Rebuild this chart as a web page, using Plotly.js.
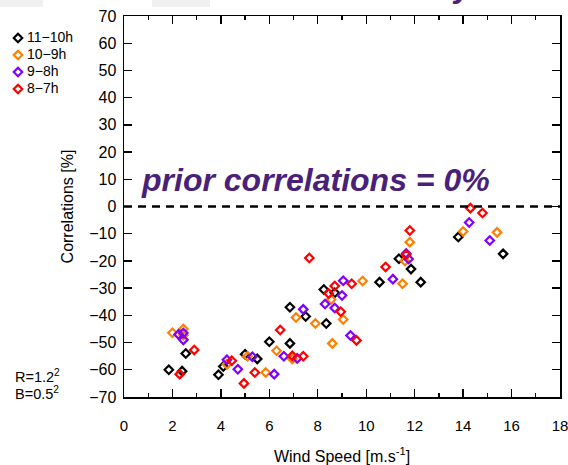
<!DOCTYPE html>
<html><head><meta charset="utf-8">
<script src="https://cdn.plot.ly/plotly-3.0.1.min.js"></script>
<style>html,body{margin:0;padding:0;background:#fff;}#chart{width:568px;height:465px;}</style>
</head><body><div id="chart"></div>
<script>
const seriesNames = ["11\u221210h", "10\u22129h", "9\u22128h", "8\u22127h"];
const seriesColors = ["#000000", "#FF8000", "#8000FF", "#FF0000"];

const blackX = [1.85, 2.4, 2.55, 3.9, 4.1, 5.0, 5.5, 6.0, 6.85, 6.85, 7.5, 8.35, 8.25, 8.7, 10.55, 11.35, 11.85, 12.25, 13.8, 15.65];
const blackY = [-60, -60.5, -54, -61.8, -58.8, -54.3, -56, -49.7, -50.3, -37, -40.4, -43, -30.5, -31.7, -27.8, -19.2, -23, -27.8, -11.2, -17.4];

const orangeX = [2.0, 2.45, 2.45, 4.25, 5.1, 5.85, 6.3, 6.95, 7.1, 7.9, 8.55, 8.6, 9.05, 9.85, 11.5, 11.6, 11.8, 14.0, 15.4];
const orangeY = [-46.4, -45, -47.3, -58, -55, -61, -53, -56, -40.8, -43, -34.2, -50.3, -41.5, -27.4, -28.4, -20, -13.1, -9.2, -9.5];

const purpleX = [2.25, 2.45, 2.45, 4.25, 4.7, 5.3, 6.2, 6.6, 7.15, 7.4, 8.3, 8.7, 9.0, 9.05, 9.35, 11.1, 11.65, 11.75, 14.25, 15.1];
const purpleY = [-47, -46.5, -49, -56.3, -59.8, -55.2, -61.6, -55, -55.8, -37.8, -35.8, -37.3, -32.7, -27.3, -47.4, -26.7, -17.3, -19.3, -5.9, -12.5];

const redX = [2.3, 2.9, 4.45, 4.95, 5.4, 6.45, 6.95, 7.4, 7.65, 8.45, 8.7, 8.95, 9.4, 9.6, 10.8, 11.65, 11.8, 14.3, 14.8];
const redY = [-61.6, -52.7, -56.7, -65, -61, -45.4, -54.9, -55, -18.9, -32, -29.2, -38.7, -28.4, -49.2, -22.2, -17.7, -8.8, -0.6, -2.4];

const priorLevel = 0;
const xTickVals = [0, 2, 4, 6, 8, 10, 12, 14, 16, 18];
const yTickVals = [-70, -60, -50, -40, -30, -20, -10, 0, 10, 20, 30, 40, 50, 60, 70];
const legendRows = [0, 1, 2, 3];

const seriesX = [blackX, orangeX, purpleX, redX];
const seriesY = [blackY, orangeY, purpleY, redY];

const font = "Liberation Sans, Arial, sans-serif";
const W = 568, H = 465;

const traces = seriesNames.map((n, i) => ({
  type: "scatter", mode: "markers", name: n,
  x: seriesX[i], y: seriesY[i], xaxis: "x", yaxis: "y",
  marker: {symbol: "diamond-open", size: 6.5, color: seriesColors[i], line: {width: 2.2, color: seriesColors[i]}},
  cliponaxis: false, showlegend: false
}));

// legend built as a small key on hidden axes
seriesNames.forEach((n, i) => {
  traces.push({
    type: "scatter", mode: "markers+text", name: n,
    x: [0], y: [legendRows[i]], xaxis: "x2", yaxis: "y2",
    text: ["\u00a0" + n], textposition: "middle right",
    textfont: {size: 14, family: font, color: "#000"},
    marker: {symbol: "diamond-open", size: 6.5, color: seriesColors[i], line: {width: 2.2, color: seriesColors[i]}},
    cliponaxis: false, showlegend: false
  });
});

const layout = {
  width: W, height: H,
  margin: {l: 0, r: 0, t: 16, b: 68},
  paper_bgcolor: "#ffffff", plot_bgcolor: "#ffffff",
  font: {family: font, color: "#000"},
  showlegend: false,
  xaxis: {
    domain: [124 / W, 560 / W], anchor: "y",
    range: [0, 18], tickvals: xTickVals, ticks: "inside", ticklen: 8, tickwidth: 1.3, tickcolor: "#000",
    minor: {dtick: 1, tick0: 0, ticks: "inside", ticklen: 4, tickwidth: 1.3, tickcolor: "#000", showgrid: false},
    mirror: "ticks", showline: true, linewidth: 1.5, linecolor: "#000", showgrid: false, zeroline: false,
    tickfont: {size: 15, family: font, color: "#000"}, ticklabelstandoff: 14, ticklabeloverflow: "allow",
    title: {text: "Wind Speed [m.s<sup>-1</sup>]", font: {size: 16, family: font, color: "#000"}, standoff: 19},
    automargin: false
  },
  yaxis: {
    domain: [0, 1], anchor: "x",
    range: [-70, 70], tickvals: yTickVals, ticks: "inside", ticklen: 8, tickwidth: 1.3, tickcolor: "#000",
    mirror: "ticks", showline: true, linewidth: 1.5, linecolor: "#000", showgrid: false, zeroline: false,
    tickfont: {size: 16, family: font, color: "#000"}, ticklabelstandoff: 3,
    title: {text: "Correlations [%]", font: {size: 16, family: font, color: "#000"}, standoff: 11},
    automargin: false
  },
  xaxis2: {domain: [18 / W, 0.2], anchor: "y2", range: [0, 1], visible: false, fixedrange: true},
  yaxis2: {domain: [(397 - 97.5) / 381, (397 - 29.5) / 381], anchor: "x2", range: [3.5, -0.5], visible: false, fixedrange: true},
  shapes: [
    {type: "line", xref: "x domain", x0: 0, x1: 1, yref: "y", y0: priorLevel, y1: priorLevel,
     line: {color: "#000", width: 2.5, dash: "8px,6px"}},
    {type: "rect", xref: "paper", yref: "paper", x0: 0, x1: 43 / W, y0: 1.0236, y1: 1.045, fillcolor: "#f0f0f0", line: {width: 0}},
    {type: "rect", xref: "paper", yref: "paper", x0: 152 / W, x1: 210 / W, y0: 1.0236, y1: 1.045, fillcolor: "#f0f0f0", line: {width: 0}}
  ],
  annotations: [
    {text: "<b><i>prior correlations = 0%</i></b>", xref: "x", yref: "y", x: 7.9, y: 9.6,
     xanchor: "center", yanchor: "middle", showarrow: false, font: {size: 32, family: font, color: "#4a2178"}},
    {text: "R=1.2<sup>2</sup>", xref: "paper", yref: "paper", x: 13 / W, y: 0.055, xanchor: "left", yanchor: "middle",
     showarrow: false, font: {size: 14.5, family: font, color: "#000"}},
    {text: "B=0.5<sup>2</sup>", xref: "paper", yref: "paper", x: 13 / W, y: 0.0105, xanchor: "left", yanchor: "middle",
     showarrow: false, font: {size: 14.5, family: font, color: "#000"}},
    {text: "<b><i>y</i></b>", xref: "paper", yref: "paper", x: 463 / W, y: 1.026, xanchor: "center", yanchor: "bottom",
     showarrow: false, font: {size: 32, family: font, color: "#4a2178"}}
  ]
};

Plotly.newPlot("chart", traces, layout, {displayModeBar: false, staticPlot: true});
</script>
</body></html>
